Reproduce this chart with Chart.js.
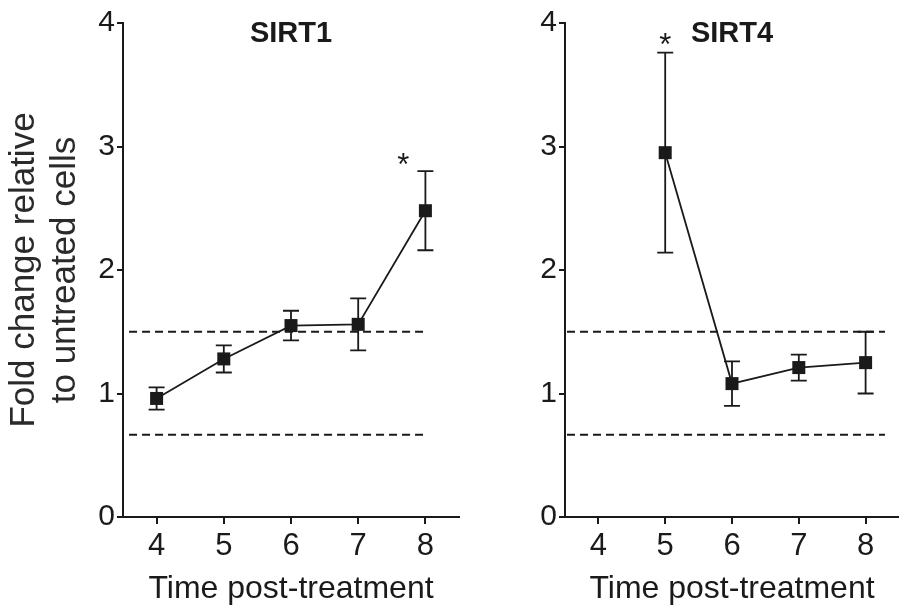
<!DOCTYPE html>
<html>
<head>
<meta charset="utf-8">
<script src="https://cdn.jsdelivr.net/npm/chart.js@4.4.1/dist/chart.umd.min.js"></script>
<style>
  html, body { margin: 0; padding: 0; background: #fff; }
  .panel { position: absolute; top: 0; }
</style>
</head>
<body>
<div class="panel" style="left:0px"><canvas id="sirt1" width="470" height="613"></canvas></div>
<div class="panel" style="left:470px"><canvas id="sirt4" width="429" height="613"></canvas></div>
<script>
// данные
const xTicks = [4, 5, 6, 7, 8];
const yTicks = [0, 1, 2, 3, 4];

const sirt1Time = [4, 5, 6, 7, 8];
const sirt1Mean = [0.96, 1.28, 1.55, 1.56, 2.48];
const sirt1Err = [0.09, 0.11, 0.12, 0.21, 0.32];
const sirt1StarX = [7.67];
const sirt1StarY = [2.9];

const sirt4Time = [5, 6, 7, 8];
const sirt4Mean = [2.95, 1.08, 1.21, 1.25];
const sirt4Err = [0.81, 0.18, 0.105, 0.25];
const sirt4StarX = [5];
const sirt4StarY = [3.87];

// пороги (пунктир) и их протяжённость по x
const thresholds = [1.5, 0.667];
const sirt1RefX = [3.59, 8.02];
const sirt4RefX = [3.53, 8.29];

const FONT = "'Liberation Sans', Arial, sans-serif";
const INK = '#1a1a1a';
Chart.defaults.font.family = FONT;

// усы ошибок, звёздочки и заголовок панели
const panelDecor = {
  id: 'panelDecor',
  afterDatasetsDraw(chart) {
    const { ctx, scales: { x, y } } = chart;
    const ds = chart.data.datasets[0];
    ctx.save();
    ctx.strokeStyle = INK;
    ctx.lineWidth = 1.8;
    ds.data.forEach((p, i) => {
      const e = ds.errors[i];
      const px = x.getPixelForValue(p.x);
      const top = y.getPixelForValue(p.y + e);
      const bot = y.getPixelForValue(p.y - e);
      ctx.beginPath();
      ctx.moveTo(px, top); ctx.lineTo(px, bot);
      ctx.moveTo(px - 8, top); ctx.lineTo(px + 8, top);
      ctx.moveTo(px - 8, bot); ctx.lineTo(px + 8, bot);
      ctx.stroke();
    });
    ctx.restore();
  },
  afterDraw(chart) {
    const { ctx, chartArea, scales: { x, y } } = chart;
    const ds = chart.data.datasets[0];
    ctx.save();
    ctx.fillStyle = INK;
    ctx.textAlign = 'center';
    ctx.textBaseline = 'middle';
    ctx.font = 'bold 29px ' + FONT;
    ctx.fillText(ds.label, (chartArea.left + chartArea.right) / 2, chartArea.top + 11);
    ctx.font = '31px ' + FONT;
    ctx.textBaseline = 'alphabetic';
    ds.starX.forEach((sx, i) => {
      ctx.fillText('*', x.getPixelForValue(sx), y.getPixelForValue(ds.starY[i]) + 16);
    });
    ctx.restore();
  },
};

function makePanel(canvasId, label, times, means, errs, starX, starY, refX, yWidth, padRight, showYTitle) {
  const points = times.map((t, i) => ({ x: t, y: means[i] }));
  const refSets = thresholds.map((v) => ({
    data: refX.map((rx) => ({ x: rx, y: v })),
    borderColor: INK,
    borderWidth: 2,
    borderDash: [8, 5],
    pointRadius: 0,
  }));

  return new Chart(document.getElementById(canvasId), {
    type: 'line',
    data: {
      datasets: [
        {
          label: label,
          data: points,
          errors: errs,
          starX: starX,
          starY: starY,
          borderColor: INK,
          borderWidth: 1.8,
          backgroundColor: INK,
          pointStyle: 'rect',
          pointRadius: 9.2,
          pointBorderWidth: 0,
          tension: 0,
        },
        ...refSets,
      ],
    },
    options: {
      responsive: false,
      animation: false,
      devicePixelRatio: 1,
      layout: { autoPadding: false, padding: { top: 23, right: padRight, left: 0, bottom: 0 } },
      plugins: { legend: { display: false }, tooltip: { enabled: false } },
      scales: {
        x: {
          type: 'linear',
          min: 3.5,
          max: 8.5,
          afterBuildTicks: (s) => { s.ticks = xTicks.map((v) => ({ value: v })); },
          afterFit: (s) => { s.height = 96; },
          grid: { drawOnChartArea: false, drawTicks: true, tickLength: 7, color: INK, lineWidth: 2 },
          border: { color: INK, width: 2 },
          ticks: { color: INK, font: { size: 31 }, padding: 4 },
          title: {
            display: true,
            text: 'Time post-treatment',
            color: INK,
            font: { size: 32 },
            padding: { top: 0, bottom: 5 },
          },
        },
        y: {
          min: 0,
          max: 4,
          afterBuildTicks: (s) => { s.ticks = yTicks.map((v) => ({ value: v })); },
          afterFit: (s) => { s.width = yWidth; },
          grid: { drawOnChartArea: false, drawTicks: true, tickLength: 6, color: INK, lineWidth: 2 },
          border: { color: INK, width: 2 },
          ticks: { color: INK, font: { size: 30 }, padding: 2 },
          title: {
            display: showYTitle,
            text: ['Fold change relative', 'to untreated cells'],
            color: '#2a2a2a',
            font: { size: 35, lineHeight: 1.17 },
            padding: { top: 4, bottom: 0 },
          },
        },
      },
    },
    plugins: [panelDecor],
  });
}

makePanel('sirt1', 'SIRT1', sirt1Time, sirt1Mean, sirt1Err, sirt1StarX, sirt1StarY, sirt1RefX, 123, 11, true);
makePanel('sirt4', 'SIRT4', sirt4Time, sirt4Mean, sirt4Err, sirt4StarX, sirt4StarY, sirt4RefX, 95, 0, false);
</script>
</body>
</html>
